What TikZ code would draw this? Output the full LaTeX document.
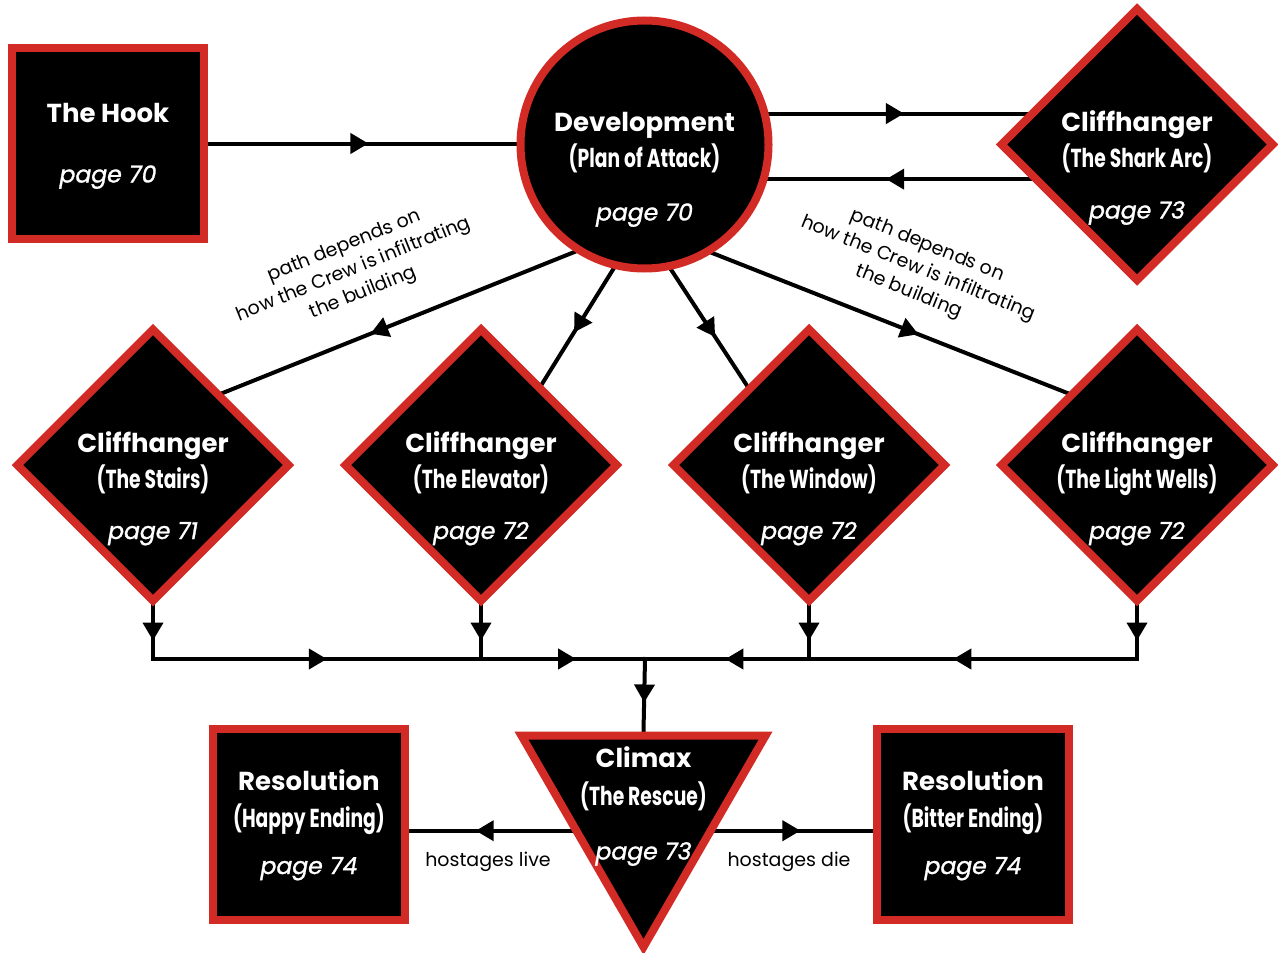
\documentclass[tikz,border=0pt]{standalone}
\usepackage{fontspec}
\setmainfont{Poppins}
\newfontfamily\condfont[FakeStretch=0.72]{Poppins}
\newfontfamily\pgfont[ItalicFeatures={FakeBold=1.2}]{Poppins}
\usetikzlibrary{shapes.geometric,arrows.meta,decorations.markings,calc,backgrounds}
\definecolor{brdred}{RGB}{210,43,38}
\tikzset{
  box/.style={draw=brdred, fill=black, line width=8pt, inner sep=0pt},
  sqbox/.style={box, rectangle, minimum width=192pt, minimum height=191pt},
  diabox/.style={box, diamond, aspect=1, minimum size=274.5pt},
  circbox/.style={box, circle, minimum size=248pt},
  tribox/.style={box, regular polygon, regular polygon sides=3, shape border rotate=180, minimum size=282pt},
  ttl/.style={text=white, font=\bfseries\fontsize{26}{30}\selectfont, anchor=base, inner sep=0pt},
  subt/.style={text=white, font=\condfont\bfseries\fontsize{26}{30}\selectfont, anchor=base, inner sep=0pt},
  pg/.style={text=white, font=\pgfont\itshape\fontsize{23.5}{28}\selectfont, anchor=base, inner sep=0pt},
  lab/.style={font=\fontsize{19}{25}\selectfont, align=center, text=black, inner sep=0pt},
  conn/.style={line width=4pt, draw=black, line cap=rect},
  midarrow/.style={postaction={decorate}, decoration={markings, mark=at position #1 with {\arrow{Triangle[length=18pt,width=20pt]}}}},
}
\begin{document}
\begin{tikzpicture}[x=1pt,y=-1pt]
\useasboundingbox (0,0) rectangle (1278,953);
% shapes
\node[sqbox] (hook) at (108,143.5) {};
\node[circbox] (dev) at (644.5,144.5) {};
\node[diabox] (shark) at (1137,144.5) {};
\node[diabox] (stairs) at (153,465) {};
\node[diabox] (elevator) at (481,465) {};
\node[diabox] (window) at (809,465) {};
\node[diabox] (wells) at (1137,465) {};
\node[tribox] (climax) at (643.5,806) {};
\node[sqbox] (happy) at (309,824.5) {};
\node[sqbox] (bitter) at (973,824.5) {};
% texts
\node[ttl] (hookT) at (108,122.5) {The Hook};
\node[pg] (hookP) at (108,182.5) {page 70};
\node[ttl] (devT) at (644.5,131.5) {Development};
\node[subt] (devS) at (644.5,167.5) {(Plan of Attack)};
\node[pg] (devP) at (644.5,220.5) {page 70};
\node[ttl] (sharkT) at (1137,131.5) {Cliffhanger};
\node[subt] (sharkS) at (1137,167.5) {(The Shark Arc)};
\node[pg] (sharkP) at (1137,218.5) {page 73};
\node[ttl] (stairsT) at (153,452) {Cliffhanger};
\node[subt] (stairsS) at (153,488) {(The Stairs)};
\node[pg] (stairsP) at (153,539) {page 71};
\node[ttl] (elevT) at (481,452) {Cliffhanger};
\node[subt] (elevS) at (481,488) {(The Elevator)};
\node[pg] (elevP) at (481,539) {page 72};
\node[ttl] (winT) at (809,452) {Cliffhanger};
\node[subt] (winS) at (809,488) {(The Window)};
\node[pg] (winP) at (809,539) {page 72};
\node[ttl] (wellsT) at (1137,452) {Cliffhanger};
\node[subt] (wellsS) at (1137,488) {(The Light Wells)};
\node[pg] (wellsP) at (1137,539) {page 72};
\node[ttl] (climT) at (643.5,767) {Climax};
\node[subt] (climS) at (643.5,805) {(The Rescue)};
\node[pg] (climP) at (643.5,859.5) {page 73};
\node[ttl] (happyT) at (309,790) {Resolution};
\node[subt] (happyS) at (309,827) {(Happy Ending)};
\node[pg] (happyP) at (309,874) {page 74};
\node[ttl] (bitterT) at (973,790) {Resolution};
\node[subt] (bitterS) at (973,827) {(Bitter Ending)};
\node[pg] (bitterP) at (973,874) {page 74};
% labels
\node[lab, rotate=22] (lblL) at (354,270) {path depends on\\how the Crew is infiltrating\\the building};
\node[lab, rotate=-22] (lblR) at (918,269) {path depends on\\how the Crew is infiltrating\\the building};
\node[lab] (live) at (488,862) {hostages live};
\node[lab] (die) at (789,862) {hostages die};
% junctions
\coordinate (j1) at (153,659);
\coordinate (j2) at (481,659);
\coordinate (jc) at (645,659);
\coordinate (j3) at (809,659);
\coordinate (j4) at (1137,659);
\begin{pgfonlayer}{background}
\draw[conn, midarrow=0.52] (hook.east) -- (hook.east -| dev.west);
\draw[conn, midarrow=0.52] (dev.14.7) -- (shark.163.2 |- dev.14.7);
\draw[conn, midarrow=0.55] (shark.198.1) -- (dev.-15.6 |- shark.198.1);
\draw[conn, midarrow=0.58] (dev.237.8) -- (stairs.46.6);
\draw[conn, midarrow=0.55] (dev.256.6) -- (elevator.53);
\draw[conn, midarrow=0.58] (dev.282.6) -- (window.128.9);
\draw[conn, midarrow=0.58] (dev.302.5) -- (wells.134.2);
\draw[conn, midarrow=0.65] (stairs.south) -- (j1);
\draw[conn, midarrow=0.65] (elevator.south) -- (j2);
\draw[conn, midarrow=0.65] (window.south) -- (j3);
\draw[conn, midarrow=0.65] (wells.south) -- (j4);
\draw[conn, midarrow=0.53] (j1) -- (j2);
\draw[conn, midarrow=0.58] (j2) -- (jc);
\draw[conn, midarrow=0.51] (j3) -- (jc);
\draw[conn, midarrow=0.56] (j4) -- (j3);
\draw[conn, midarrow=0.6] (jc) -- (climax.north);
\draw[conn, midarrow=0.59] (climax.199.3) -- (climax.199.3 -| happy.east);
\draw[conn, midarrow=0.54] (climax.-19.3) -- (climax.-19.3 -| bitter.west);
\end{pgfonlayer}
\end{tikzpicture}
\end{document}
